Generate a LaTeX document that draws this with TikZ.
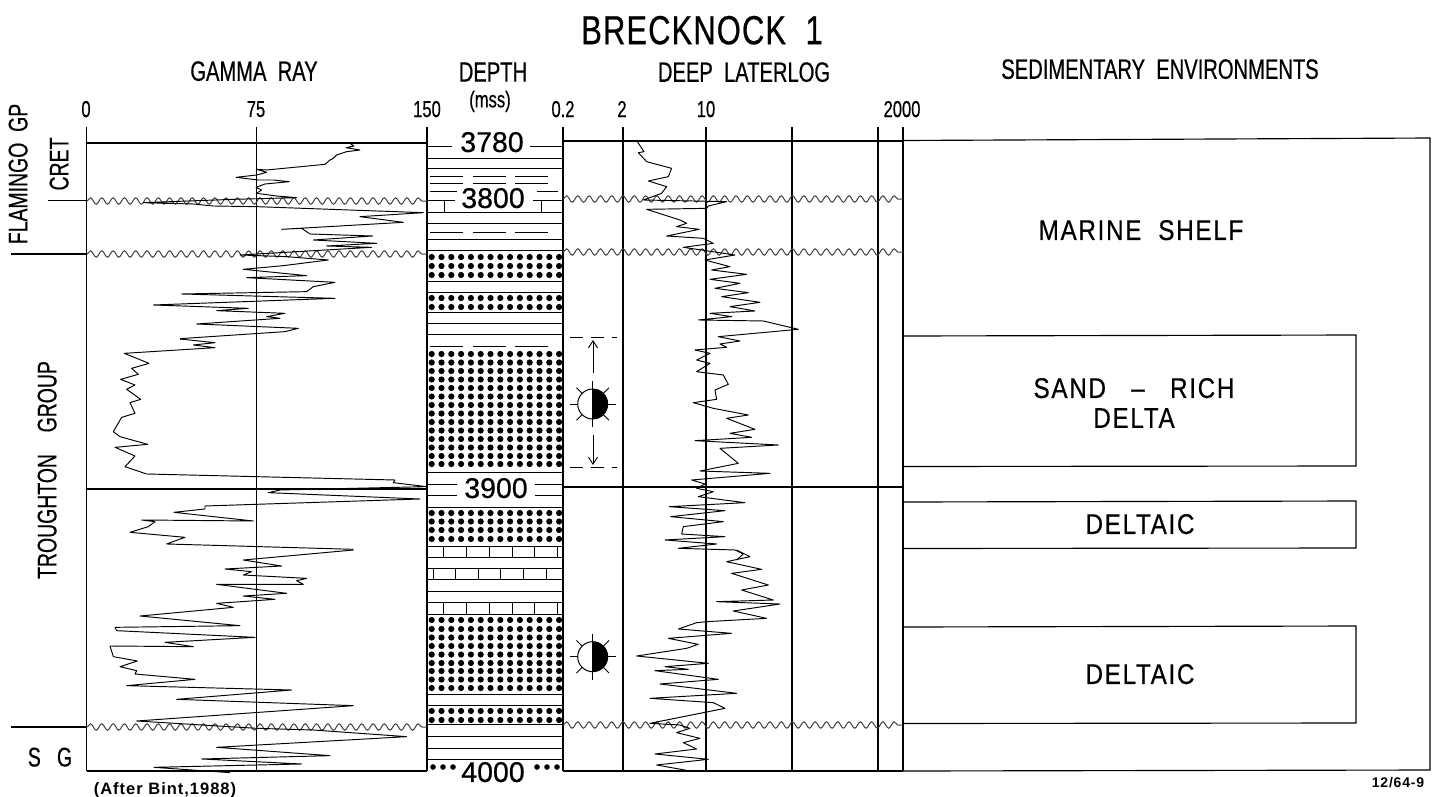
\documentclass[tikz,border=0pt]{standalone}
\usepackage{fontspec}
\usepackage{tikz}
\usetikzlibrary{calc}
\usetikzlibrary{arrows.meta}
\usetikzlibrary{decorations.pathmorphing}
\newfontfamily\logfont[FakeStretch=0.72,FakeBold=0.5]{Liberation Sans}
\newfontfamily\titlefont[FakeStretch=0.76,FakeBold=0.6,LetterSpace=3]{Liberation Sans}
\newfontfamily\envfont[FakeStretch=0.85,FakeBold=0.5,LetterSpace=6]{Liberation Sans}
\newfontfamily\numfont[FakeBold=0.6]{Liberation Sans}
\newfontfamily\notefont[LetterSpace=6]{Liberation Sans Bold}
\tikzset{
  frameline/.style={line width=1.15pt},
  litholine/.style={line width=1pt},
  trace/.style={line width=0.95pt,line join=round},
  wavy/.style={line width=1pt,black!75,decorate,decoration={snake,amplitude=3.2,segment length=11.3}},
  shale/.style={line width=0.9pt},
  txt/.style={inner sep=0pt,outer sep=0pt,text depth=0pt},
  hdr/.style={txt,font=\logfont\fontsize{28}{28}\selectfont},
  scl/.style={txt,font=\logfont\fontsize{23}{23}\selectfont},
  env/.style={txt,font=\envfont\fontsize{28.5}{28.5}\selectfont},
  dep/.style={txt,font=\numfont\fontsize{28.5}{28.5}\selectfont},
  arrowhd/.style={-{Straight Barb[length=7pt,width=9pt]},line width=0.9pt},
}
\begin{document}
\begin{tikzpicture}[x=1pt,y=-1pt]
  \useasboundingbox (0,0) rectangle (1442,796);

  % headings
  \node[txt,font=\titlefont\fontsize{40.5}{40.5}\selectfont] (title) at (702,30) {BRECKNOCK\ \ 1};
  \node[hdr] (gamma) at (254,71) {GAMMA\ \ RAY};
  \node[hdr] (depth) at (493,72) {DEPTH};
  \node[scl] (mss) at (490,99) {(mss)};
  \node[hdr] (laterlog) at (744,72) {DEEP\ \ LATERLOG};
  \node[hdr] (sedenv) at (1160,69) {SEDIMENTARY\ \ ENVIRONMENTS};

  % scale numbers
  \node[scl] (g0) at (86,109) {0};
  \node[scl] (g75) at (256,109) {75};
  \node[scl] (g150) at (427,109) {150};
  \node[scl] (r02) at (563,109) {0.2};
  \node[scl] (r2) at (622,109) {2};
  \node[scl] (r10) at (706,109) {10};
  \node[scl] (r2000) at (902,109) {2000};

  % units on the left
  \node[hdr,font=\logfont\fontsize{27}{27}\selectfont,rotate=90] (flamingo) at (18,174) {FLAMINGO\ \ GP};
  \node[hdr,font=\logfont\fontsize{27}{27}\selectfont,rotate=90] (cret) at (59,164) {CRET};
  \node[hdr,font=\logfont\fontsize{27}{27}\selectfont,rotate=90] (troughton) at (47,470) {TROUGHTON\ \ \ \ GROUP};
  \node[hdr,font=\logfont\fontsize{27}{27}\selectfont] (sg) at (50,757) {S\ \ \ G};
  \draw[frameline] (48,200.5) -- (87,200.5);
  \draw[frameline] (11,254) -- (87,254);
  \draw[frameline] (11,727) -- (87,727);

  % log frames
  \foreach \x in {86.5,256.5,427,563,623,706,792,878,903}
    \draw[frameline] (\x,127) -- (\x,771);
  \draw[frameline] (86.5,143) -- (427,143);
  \draw[frameline] (86.5,771) -- (427,771);
  \draw[frameline] (86.5,489) -- (427,489);
  \draw[frameline] (563,141) -- (903,141);
  \draw[frameline] (563,771) -- (903,771);
  \draw[frameline] (563,487) -- (903,487);

  % unconformities
  \foreach \y in {201,254,727}
    \draw[wavy] (87,\y) -- (427,\y);
  \foreach \y in {199,252,725}
    \draw[wavy] (563,\y) -- (903,\y);

  % lithology column
  \foreach \y in {158,168,212,223,239,250,281,292,312,323,334,472,507,546,557,568,579,591,602,614,694,705,724,736,748,759}
    \draw[litholine] (427,\y) -- (563,\y);
  \foreach \y in {176,183,232,346}
    \foreach \x in {430,473,515}
      \draw[shale] (\x,\y) -- (\x+33,\y);
  \draw[shale] (430,191) -- (457,191);
  \draw[shale] (537,191) -- (558,191);
  \draw[litholine] (427,146) -- (452,146);
  \draw[litholine] (530,146) -- (563,146);
  \draw[litholine] (427,200) -- (455,200);
  \draw[litholine] (533,200) -- (563,200);
  \draw[litholine] (444,200) -- (444,212);
  \draw[litholine] (541,200) -- (541,212);
  \foreach \y in {484,495} {
    \draw[litholine] (428,\y) -- (457,\y);
    \draw[litholine] (535,\y) -- (563,\y);
  }
  % limestone bricks
  \foreach \x in {443,466,489,512,534,557} {
    \draw[litholine] (\x,546) -- (\x,557);
    \draw[litholine] (\x,602) -- (\x,614);
  }
  \foreach \x in {433,455,478,500,523,546}
    \draw[litholine] (\x,568) -- (\x,579);
  % sandstone dots
  \foreach \y in {257,266,275,298,307,354,362.5,371,379.5,388,396.5,405,413.5,422,430.5,439,447.5,456,464,513,521.5,530,539,620,629,637.5,646,654.5,663,671,679.5,688,711,720}
    \foreach \x in {0,...,13}
      \fill (431.7+\x*9.8,\y) circle (3.1);
  \foreach \x in {433,443,453,537,547,557}
    \fill (\x,767) circle (2.8);
  \node[dep] (d3780) at (492,142) {3780};
  \node[dep] (d3800) at (493,198) {3800};
  \node[dep] (d3900) at (496,488) {3900};
  \node[dep] (d4000) at (493,772) {4000};

  % oil shows
  \coordinate (sun1) at (592.7,404);
  \coordinate (sun2) at (592.7,656.7);
  \foreach \c in {sun1,sun2} {
    \fill ($(\c)+(0,-15)$) arc[start angle=-90,end angle=90,radius=15] -- cycle;
    \draw[line width=1pt] (\c) circle (15);
    \draw[line width=1pt] ($(\c)+(0,-15)$) -- ($(\c)+(0,15)$);
    \foreach \a in {0,45,...,315}
      \draw[line width=0.9pt] ($(\c)+(\a:15)$) -- ($(\c)+(\a:23)$);
  }
  \draw[shale,dash pattern=on 13pt off 8pt] (570,337.5) -- (617,337.5);
  \draw[shale,dash pattern=on 13pt off 8pt] (570,467.5) -- (617,467.5);
  \coordinate (uptail) at (593,373);
  \coordinate (uphead) at (593,340);
  \coordinate (downtail) at (593,435);
  \coordinate (downhead) at (593,465);
  \draw[arrowhd] (uptail) -- (uphead);
  \draw[arrowhd] (downtail) -- (downhead);

  % gamma ray trace
  \begin{scope}[shift={(0,100)},x=0.3333pt,y=-0.3333pt]
    \draw[trace] (1050,130)--(1062,138)--(1038,143)--(1080,150)--(1040,155)--(1010,165)--(1000,175)--(990,180)--(975,193)--(800,210)--(770,208)--(800,217)--(770,225)--(708,232)--(775,240)--(820,240)--(868,245)--(795,252)--(768,262)--(785,270)--(770,280)--(830,288)--(890,293)--(700,298)--(430,308)--(580,312)--(640,318)--(770,320)--(1270,338)--(1080,350)--(1210,367)--(845,388)--(905,385)--(930,402)--(1118,408)--(940,420)--(1130,430)--(980,438)--(1115,442)--(720,465)--(860,470)--(985,480)--(850,497)--(730,508)--(920,527)--(740,533)--(1005,547)--(940,560)--(920,575)--(545,582)--(1005,595)--(460,615)--(745,625)--(650,632)--(855,640)--(800,650)--(840,655)--(590,672)--(895,685)--(855,695)--(540,716);
  \end{scope}
  \begin{scope}[shift={(80,330)},x=0.3333pt,y=-0.3333pt]
    \draw[trace] (300,27)--(405,38)--(340,45)--(405,53)--(133,70)--(207,100)--(155,115)--(175,133)--(122,148)--(165,165)--(140,178)--(182,208)--(150,218)--(165,250)--(125,262)--(100,305)--(120,320)--(203,343)--(105,352)--(165,378)--(135,410)--(200,432)--(530,440)--(945,450)--(940,458)--(1040,470)--(600,480)--(565,488)--(1020,507)--(375,528)--(375,537)--(282,547)--(520,573)--(185,570)--(225,575)--(205,590)--(150,607)--(315,622)--(260,642)--(820,658);
  \end{scope}
  \begin{scope}[shift={(80,550)},x=0.3333pt,y=-0.3333pt]
    \draw[trace] (820,0)--(490,30)--(605,48)--(435,57)--(515,65)--(490,75)--(680,85)--(650,92)--(670,103)--(410,103)--(620,130)--(490,138)--(585,148)--(410,160)--(460,172)--(180,198)--(480,227)--(105,232)--(110,242)--(525,262)--(255,277)--(340,290)--(90,288)--(100,320)--(172,333)--(120,350)--(170,362)--(165,372)--(345,388)--(140,407)--(635,420)--(290,448)--(820,467)--(170,513)--(530,535)--(700,540)--(980,560)--(410,592)--(750,617)--(365,627)--(665,642)--(222,652)--(450,668);
  \end{scope}

  % laterolog trace
  \begin{scope}[shift={(420,120)},x=0.3333pt,y=-0.3333pt]
    \draw[trace] (652,65)--(672,95)--(655,98)--(680,125)--(755,145)--(745,170)--(685,183)--(740,200)--(725,220)--(670,240)--(920,245)--(865,258)--(860,265)--(680,268)--(780,300)--(800,310)--(770,320)--(838,328)--(740,348)--(850,355)--(880,370)--(790,382)--(945,405)--(855,420)--(930,440)--(875,450)--(980,463)--(870,478)--(960,490)--(885,505)--(985,518)--(905,530)--(1020,547)--(930,560)--(1005,573)--(870,580)--(935,590)--(835,600)--(1030,603)--(1135,628)--(895,650)--(960,663)--(900,672)--(920,682)--(825,690);
  \end{scope}
  \begin{scope}[shift={(420,330)},x=0.3333pt,y=-0.3333pt]
    \draw[trace] (825,60)--(870,70)--(830,90)--(870,100)--(830,125)--(910,135)--(925,163)--(885,180)--(890,208)--(820,218)--(880,235)--(985,255)--(920,265)--(1005,298)--(930,310)--(995,322)--(825,332)--(1075,345)--(900,355)--(955,400)--(840,423)--(1050,430)--(815,450)--(855,462)--(830,475)--(880,485)--(835,500)--(975,518)--(748,530)--(915,542)--(752,560)--(910,575)--(790,590)--(785,612)--(915,620)--(735,630)--(890,642)--(775,655)--(945,660)--(970,672)--(950,690);
  \end{scope}
  \begin{scope}[shift={(420,550)},x=0.3333pt,y=-0.3333pt]
    \draw[trace] (950,0)--(990,20)--(920,35)--(1025,58)--(935,70)--(1045,105)--(965,120)--(1060,150)--(890,155)--(1080,162)--(940,183)--(1040,205)--(860,215)--(830,218)--(775,237)--(935,250)--(745,265)--(835,283)--(800,295)--(650,318)--(865,340)--(735,350)--(805,358)--(705,362)--(895,388)--(720,402)--(950,430)--(690,445)--(880,458)--(915,475)--(690,520)--(780,525)--(810,535)--(770,548)--(840,565)--(790,578)--(830,597)--(705,612)--(865,628)--(710,645)--(805,662);
  \end{scope}

  % environments
  \draw[frameline] (903,140.5) -- (1430,138) -- (1430,770) -- (903,771);
  \draw[frameline] (903,336) -- (1356,335) -- (1356,466) -- (903,466.5);
  \draw[frameline] (903,502) -- (1356,501) -- (1356,548) -- (903,548.5);
  \draw[frameline] (903,627) -- (1356,626) -- (1356,723) -- (903,723.5);
  \node[env] (marine) at (1141,230) {MARINE\ \ SHELF};
  \node[env] (sandrich) at (1134,388) {SAND\ \ \ –\ \ \ RICH};
  \node[env] (delta) at (1134,418) {DELTA};
  \node[env] (deltaic) at (1140,524) {DELTAIC};
  \node[env] (deltaicb) at (1140,674) {DELTAIC};

  % notes
  \node[txt,font=\notefont\fontsize{16.5}{16.5}\selectfont] (bint) at (165,789) {(After Bint,1988)};
  \node[txt,font=\notefont\fontsize{14}{14}\selectfont] (figno) at (1398,782) {12/64-9};

\end{tikzpicture}
\end{document}
